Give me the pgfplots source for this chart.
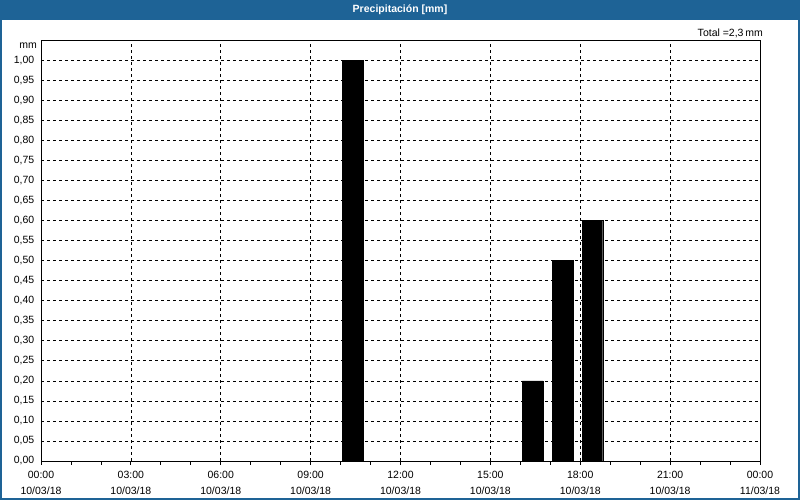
\documentclass[border=0pt]{standalone}
\usepackage{pgfplots}
\pgfplotsset{compat=1.18}
\usepackage{fontspec}
\setmainfont{Liberation Sans}
\definecolor{titleblue}{RGB}{30,99,150}
\begin{document}
\fontsize{10.5bp}{12bp}\selectfont
\begin{tikzpicture}[x=1bp,y=1bp]
\useasboundingbox (0,0) rectangle (800,500);
\fill[white] (0,0) rectangle (800,500);
\fill[titleblue] (0,480) rectangle (800,500);
\draw[titleblue,line width=2bp] (1,0) -- (1,480) (799,0) -- (799,480) (0,1) -- (800,1);
\node[text=white,font=\bfseries] at (400,490) {Precipitación [mm]};
\node[anchor=east,inner sep=0pt] at (763,467) {Total =2,3\,mm};
\node[anchor=east,inner sep=0pt] at (37,454) {mm};
\begin{axis}[
  at={(41bp,39bp)}, anchor=south west,
  scale only axis, width=719bp, height=421bp,
  xmin=0, xmax=24, ymin=0, ymax=1.05,
  axis line style={black, line width=0.8bp},
  xtick={0,3,...,24},
  minor xtick={1,2,4,5,7,8,10,11,13,14,16,17,19,20,22,23},
  xticklabels={{00:00\\10/03/18},{03:00\\10/03/18},{06:00\\10/03/18},{09:00\\10/03/18},{12:00\\10/03/18},{15:00\\10/03/18},{18:00\\10/03/18},{21:00\\10/03/18},{00:00\\11/03/18}},
  xticklabel style={align=center, font=\fontsize{10.5bp}{16bp}\selectfont},
  ytick={0,0.05,...,1.001},
  yticklabel style={/pgf/number format/.cd, fixed, fixed zerofill, precision=2, use comma, assume math mode=true},
  ytick style={draw=none},
  xtick pos=bottom,
  tick align=outside,
  major tick length=4bp, minor tick length=4bp,
  tick style={black, line width=0.8bp},
  grid=major,
  major grid style={black, line width=0.6bp, dash pattern=on 3bp off 3bp},
  xmajorgrids=true, ymajorgrids=true,
  yticklabel shift=-1bp,
  xticklabel shift=2bp,
  ticklabel style={font=\fontsize{10.5bp}{16bp}\selectfont},
]
\addplot[ybar, bar width=0.68, fill=black, draw=black] coordinates {
  (10.41,1.0) (16.41,0.2) (17.41,0.5) (18.41,0.6)
};
\end{axis}
\end{tikzpicture}
\end{document}
